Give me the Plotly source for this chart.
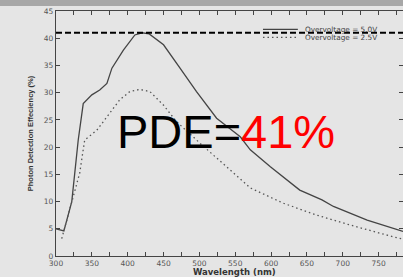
import plotly.graph_objects as go

# ---- data ----
wl_50 = [300, 311, 322, 331, 338, 350, 361, 371, 378, 394, 410, 420, 430, 450, 473, 496,
         524, 557, 571, 599, 640, 671, 687, 734, 784]
pde_50 = [5.0, 4.6, 10.0, 21.3, 28.0, 29.6, 30.5, 31.7, 34.5, 37.8, 40.6, 41.0, 40.8, 38.8,
          34.5, 30.2, 25.3, 21.9, 19.5, 16.4, 12.1, 10.3, 9.1, 6.6, 4.5]

wl_25 = [308, 322, 333, 340, 357, 361, 389, 403, 417, 431, 450, 468, 501, 571, 617, 664,
         710, 771, 784]
pde_25 = [3.2, 9.7, 15.2, 21.3, 23.1, 23.8, 28.7, 30.2, 30.6, 30.2, 27.7, 24.7, 20.7, 12.5,
          9.7, 7.5, 5.7, 3.5, 3.1]

names = ["Overvoltage = 5.0V", "Overvoltage = 2.5V"]
pde_peak = 41
x_ticks = list(range(300, 800, 25))
x_labels = [str(v) if v % 50 == 0 else "" for v in x_ticks]
y_ticks = list(range(0, 50, 5))

BG = "#e5e5e5"
FONT = "Liberation Sans, Arial"
WIDE = "DejaVu Sans"
styles = [dict(color="#444444", width=1.3),
          dict(color="#555555", width=1.3, dash="1.5px,3px")]

fig = go.Figure()
fig.add_trace(go.Scatter(x=wl_50, y=pde_50, mode="lines", name=names[0], line=styles[0]))
fig.add_trace(go.Scatter(x=wl_25, y=pde_25, mode="lines", name=names[1], line=styles[1]))

fig.add_hline(y=pde_peak, line=dict(color="black", width=2, dash="6px,3px"))

# top grey band
fig.add_shape(type="rect", xref="paper", yref="paper", x0=-0.2, x1=1.05,
              y0=1.0204, y1=1.06, fillcolor="#a7a7a7", line_width=0, layer="below")

# manual legend
leg_y = [0.925, 0.892]
for name, st, ly in zip(names, styles, leg_y):
    fig.add_shape(type="line", xref="paper", yref="paper", x0=0.5965, x1=0.697,
                  y0=ly, y1=ly, line=st)
    fig.add_annotation(x=0.712, y=ly, xref="paper", yref="paper", showarrow=False,
                       xanchor="left", yanchor="middle", text=name,
                       font=dict(family=WIDE, size=7.3, color="#444444"))

fig.add_annotation(x=0.49, y=0.507, xref="paper", yref="paper", showarrow=False,
                   text="PDE=<span style='color:#ff0000'>41%</span>",
                   font=dict(family=FONT, size=47, color="black"))
fig.add_annotation(x=0.515, y=-0.065, xref="paper", yref="paper", showarrow=False,
                   yanchor="middle", text="<b>Wavelength (nm)</b>",
                   font=dict(family=WIDE, size=8.5, color="#333333"))

axis_common = dict(showline=True, linecolor="#444444", linewidth=1.2, ticks="inside",
                   ticklen=4, tickcolor="#444444", mirror="ticks", showgrid=False,
                   zeroline=False, tickfont=dict(family=WIDE, size=7.5, color="#555555"))
fig.update_xaxes(range=[300, 784], tickmode="array", tickvals=x_ticks, ticktext=x_labels,
                 **axis_common)
fig.update_yaxes(range=[0, 45], tickmode="array", tickvals=y_ticks,
                 title=dict(text="<b>Photon Detection Effeciency (%)</b>", standoff=9,
                            font=dict(family=FONT, size=7.5, color="#333333")),
                 **axis_common)

fig.update_layout(width=403, height=277, margin=dict(l=56, r=0, t=11, b=21),
                  paper_bgcolor=BG, plot_bgcolor=BG, showlegend=False)

fig.write_html("out.html", config={"displayModeBar": False},
               post_script="document.body.style.margin='0px';document.body.style.overflow='hidden';")
